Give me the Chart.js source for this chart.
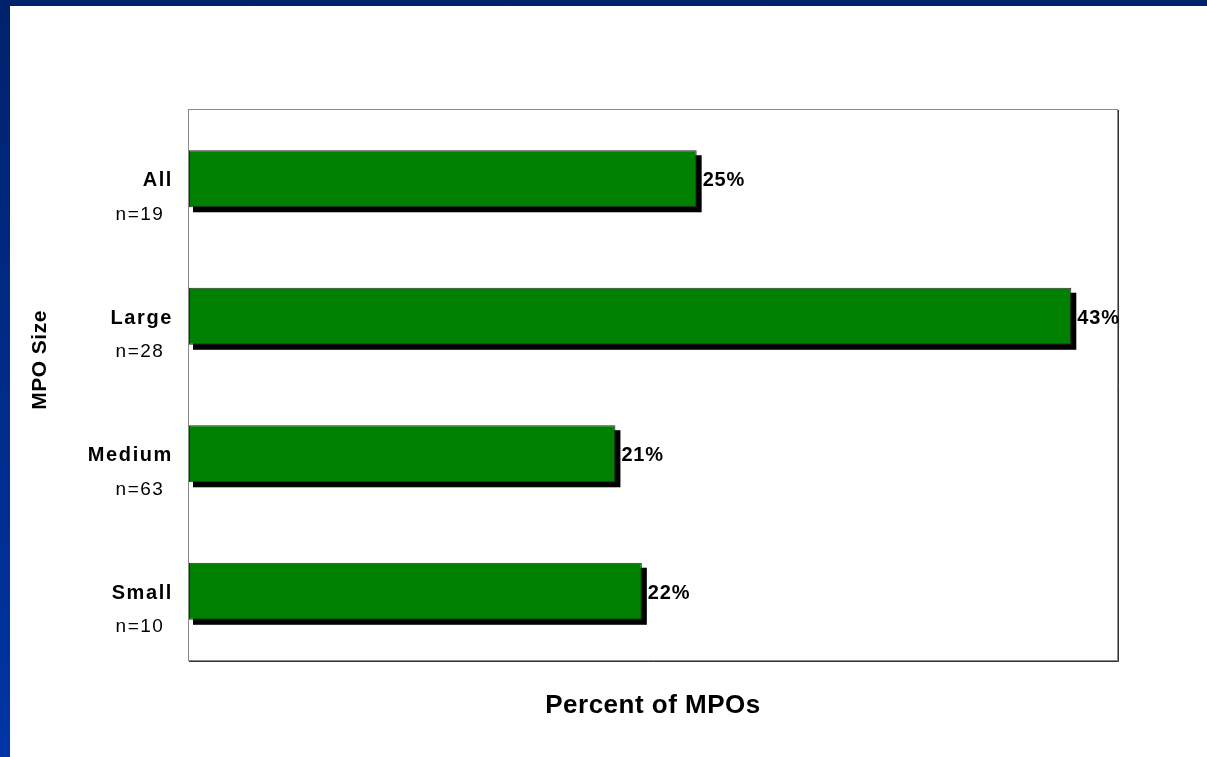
<!DOCTYPE html>
<html>
<head>
<meta charset="utf-8">
<script src="https://cdn.jsdelivr.net/npm/chart.js@4"></script>
<style>
  html, body { margin: 0; padding: 0; }
  body {
    width: 1207px; height: 757px; overflow: hidden;
    background: linear-gradient(to bottom, #00226c, #0035a5);
    position: relative;
  }
  .chart-container {
    position: absolute; left: 10px; top: 6px;
    width: 1197px; height: 751px; background: #fff;
  }
</style>
</head>
<body>
<div class="chart-container"><canvas id="mpoChart"></canvas></div>
<script>
const categories = ["All", "Large", "Medium", "Small"];
const sampleSizes = ["n=19", "n=28", "n=63", "n=10"];
const percentValues = [25.0, 43.45, 21.0, 22.3];
const axisMax = 45.7;

const FONT = "'Liberation Sans', Arial, sans-serif";

// plot frame + black drop shadow under each bar
const frameAndShadow = {
    id: "frameAndShadow",
    beforeDatasetsDraw(chart) {
        const { ctx, chartArea: a } = chart;
        ctx.save();
        ctx.strokeStyle = "#8a8a8a";
        ctx.lineWidth = 1;
        ctx.strokeRect(a.left - 0.5, a.top - 0.5, a.right - a.left + 1, a.bottom - a.top + 1);
        ctx.strokeStyle = "#333";
        ctx.beginPath();
        ctx.moveTo(a.right + 1.5, a.top);
        ctx.lineTo(a.right + 1.5, a.bottom + 1.5);
        ctx.lineTo(a.left, a.bottom + 1.5);
        ctx.stroke();

        ctx.fillStyle = "#000";
        chart.getDatasetMeta(0).data.forEach(bar => {
            const { x, y, base, height } = bar.getProps(["x", "y", "base", "height"], true);
            ctx.fillRect(base + 4, y - height / 2 + 5, x - base + 1, height);
        });
        ctx.restore();
    }
};

const textLayer = {
    id: "textLayer",
    afterDraw(chart) {
        const { ctx, chartArea: a } = chart;
        const yScale = chart.scales.y;
        const meta = chart.getDatasetMeta(0);
        ctx.save();
        ctx.fillStyle = "#000";
        ctx.textBaseline = "middle";

        categories.forEach((cat, i) => {
            const y = yScale.getPixelForTick(i);
            ctx.letterSpacing = "1.6px";
            ctx.font = "bold 20px " + FONT;
            ctx.textAlign = "right";
            ctx.fillText(cat, a.left - 16, y + 2);
            ctx.letterSpacing = "1.5px";
            ctx.font = "19px " + FONT;
            ctx.textAlign = "center";
            ctx.fillText(sampleSizes[i], a.left - 49, y + 36);
        });

        // value labels
        ctx.letterSpacing = "0.8px";
        ctx.font = "bold 20px " + FONT;
        ctx.textAlign = "left";
        meta.data.forEach((bar, i) => {
            ctx.fillText(Math.round(percentValues[i]) + "%", bar.x + 6, bar.y + 2);
        });

        // axis titles
        ctx.letterSpacing = "0.5px";
        ctx.font = "bold 26px " + FONT;
        ctx.textAlign = "center";
        ctx.fillText("Percent of MPOs", (a.left + a.right) / 2, a.bottom + 46);

        ctx.save();
        ctx.translate(30, 354);
        ctx.rotate(-Math.PI / 2);
        ctx.font = "bold 21px " + FONT;
        ctx.fillText("MPO Size", 0, 0);
        ctx.restore();

        ctx.restore();
    }
};

new Chart(document.getElementById("mpoChart"), {
    type: "bar",
    data: {
        labels: categories,
        datasets: [{
            data: percentValues,
            backgroundColor: "#008000",
            borderColor: "#2a2a2a",
            borderWidth: 1,
            borderSkipped: false,
            categoryPercentage: 1,
            barPercentage: 0.415,
        }],
    },
    options: {
        indexAxis: "y",
        responsive: true,
        maintainAspectRatio: false,
        animation: false,
        layout: { padding: { top: 104, right: 90, bottom: 0, left: 0 } },
        plugins: {
            legend: { display: false },
            tooltip: { enabled: false },
        },
        scales: {
            x: {
                min: 0,
                max: axisMax,
                grid: { display: false },
                border: { display: false },
                ticks: { display: false },
                afterFit(scale) { scale.height = 97; },
            },
            y: {
                grid: { display: false },
                border: { display: false },
                ticks: { display: false },
                afterFit(scale) { scale.width = 179; },
            },
        },
    },
    plugins: [frameAndShadow, textLayer],
});
</script>
</body>
</html>
